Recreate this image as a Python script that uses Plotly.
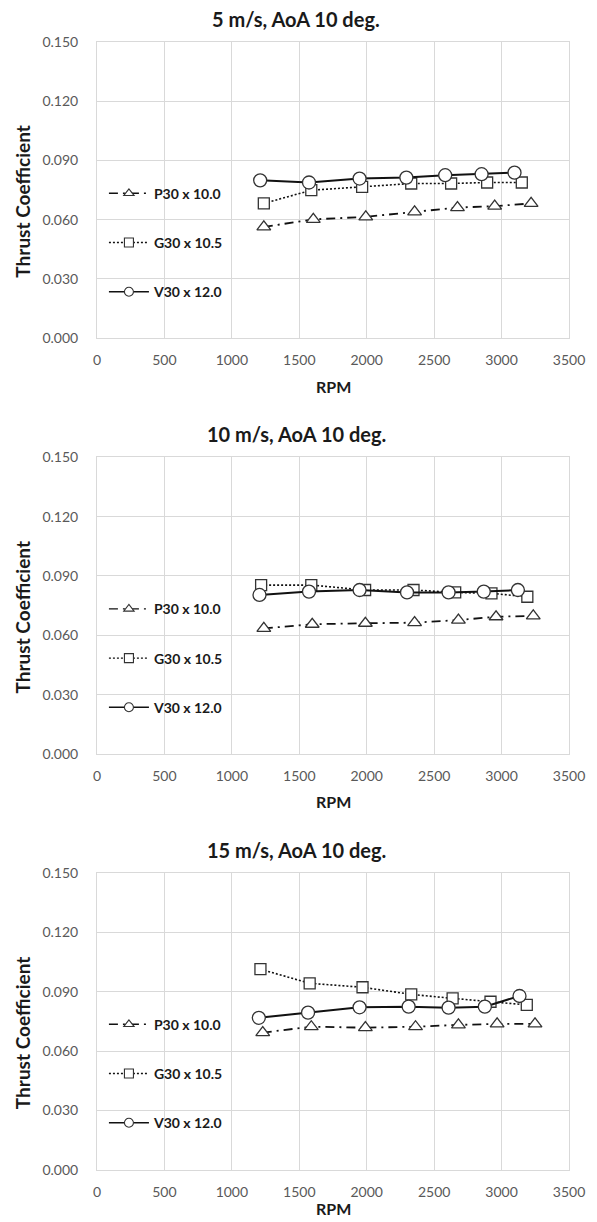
import plotly.graph_objects as go

# ---------------- data ----------------
series_names = ["P30 x 10.0", "G30 x 10.5", "V30 x 12.0"]
panel_titles = ["5 m/s, AoA 10 deg.", "10 m/s, AoA 10 deg.", "15 m/s, AoA 10 deg."]
x_ticks = [0, 500, 1000, 1500, 2000, 2500, 3000, 3500]
y_ticks = [0.000, 0.030, 0.060, 0.090, 0.120, 0.150]

# 5 m/s
rpm_p30_5 = [1237, 1604, 1993, 2355, 2673, 2949, 3219]
ct_p30_5 = [0.0563, 0.0601, 0.0614, 0.0639, 0.0661, 0.0668, 0.0682]
rpm_g30_5 = [1237, 1589, 1966, 2330, 2626, 2893, 3150]
ct_g30_5 = [0.0682, 0.0749, 0.0766, 0.0783, 0.0783, 0.0788, 0.0788]
rpm_v30_5 = [1210, 1572, 1947, 2294, 2582, 2852, 3096]
ct_v30_5 = [0.0799, 0.0788, 0.0808, 0.0813, 0.0825, 0.0830, 0.0838]

# 10 m/s
rpm_p30_10 = [1237, 1596, 1990, 2355, 2680, 2959, 3235]
ct_p30_10 = [0.0635, 0.0656, 0.0661, 0.0664, 0.0677, 0.0694, 0.0698]
rpm_g30_10 = [1217, 1589, 1988, 2347, 2656, 2925, 3191]
ct_g30_10 = [0.0854, 0.0854, 0.0829, 0.0829, 0.0817, 0.0812, 0.0795]
rpm_v30_10 = [1205, 1572, 1947, 2299, 2607, 2868, 3121]
ct_v30_10 = [0.0804, 0.0821, 0.0829, 0.0817, 0.0817, 0.0821, 0.0829]

# 15 m/s
rpm_p30_15 = [1229, 1589, 1990, 2362, 2680, 2967, 3248]
ct_p30_15 = [0.0693, 0.0723, 0.0718, 0.0723, 0.0732, 0.0737, 0.0737]
rpm_g30_15 = [1212, 1577, 1969, 2330, 2637, 2918, 3187]
ct_g30_15 = [0.1013, 0.0942, 0.0922, 0.0886, 0.0866, 0.0849, 0.0833]
rpm_v30_15 = [1200, 1565, 1947, 2311, 2607, 2876, 3133]
ct_v30_15 = [0.0768, 0.0794, 0.0821, 0.0824, 0.0819, 0.0824, 0.0878]

panels = [
    [(rpm_p30_5, ct_p30_5), (rpm_g30_5, ct_g30_5), (rpm_v30_5, ct_v30_5)],
    [(rpm_p30_10, ct_p30_10), (rpm_g30_10, ct_g30_10), (rpm_v30_10, ct_v30_10)],
    [(rpm_p30_15, ct_p30_15), (rpm_g30_15, ct_g30_15), (rpm_v30_15, ct_v30_15)],
]

# ---------------- styles ----------------
W, H = 597, 1222
M_L, M_R, M_T, M_B = 97, 23, 42, 52
PH = H - M_T - M_B  # plotting height in px


def py(px):  # pixel y (from top) -> paper y
    return (H - M_B - px) / PH


def pxx(px):  # pixel x -> paper x
    return (px - M_L) / (W - M_L - M_R)


panel_px = [(41.7, 338.0), (457.3, 754.0), (872.7, 1170.0)]  # top, bottom
rpm_label_px = [386, 801, 1208]
styles = [
    dict(dash="9px,5px,2px,5px", width=1.8, symbol="triangle-up", size=12),
    dict(dash="2px,2px", width=1.6, symbol="square", size=11),
    dict(dash="solid", width=2.0, symbol="circle", size=13),
]
LEG_MK = 9
LINE_COL = "#111111"
MK_EDGE = "#333333"
GRID = "#d9d9d9"
TICK_FONT = dict(family="Lato", size=14, color="#595959")
BOLD = "Lato"

fig = go.Figure()
for p, series in enumerate(panels):
    sfx = "" if p == 0 else str(p + 1)
    for s, (xs, ys) in enumerate(series):
        st = styles[s]
        fig.add_trace(go.Scatter(
            x=xs, y=ys, name=series_names[s], mode="lines+markers",
            xaxis="x" + sfx, yaxis="y" + sfx, showlegend=False,
            line=dict(color=LINE_COL, width=st["width"], dash=st["dash"]),
            marker=dict(symbol=st["symbol"], size=st["size"], color="white",
                        line=dict(color=MK_EDGE, width=1.3)),
        ))
    # legend entries (no marks in the plot area; smaller legend symbols)
    for s in range(3):
        st = styles[s]
        fig.add_trace(go.Scatter(
            x=[None], y=[None], name=series_names[s], mode="lines+markers",
            xaxis="x" + sfx, yaxis="y" + sfx, showlegend=True,
            legend="legend" + sfx, legendgroup=f"g{p}_{s}",
            line=dict(color=LINE_COL, width=st["width"] * 0.8, dash=st["dash"]),
            marker=dict(symbol=st["symbol"], size=LEG_MK, color="white",
                        line=dict(color=MK_EDGE, width=1.1)),
        ))

layout = dict(
    width=W, height=H, paper_bgcolor="white", plot_bgcolor="white",
    margin=dict(l=M_L, r=M_R, t=M_T, b=M_B),
    showlegend=True, annotations=[],
)

for p in range(3):
    sfx = "" if p == 0 else str(p + 1)
    top, bot = panel_px[p]
    dom = [max(0.0, py(bot)), min(1.0, py(top))]
    layout["xaxis" + sfx] = dict(
        domain=[0, 1], anchor="y" + sfx, range=[0, 3500], tickvals=x_ticks,
        showgrid=True, gridcolor=GRID, gridwidth=1, zeroline=False,
        showline=True, linecolor=GRID, linewidth=1, mirror=True,
        ticks="outside", ticklen=9, tickcolor="rgba(0,0,0,0)",
        tickfont=TICK_FONT,
    )
    layout["yaxis" + sfx] = dict(
        domain=dom, anchor="x" + sfx, range=[0, 0.15], tickvals=y_ticks,
        tickformat=".3f", showgrid=True, gridcolor=GRID, gridwidth=1,
        zeroline=False, showline=True, linecolor=GRID, linewidth=1, mirror=True,
        ticks="outside", ticklen=15, tickcolor="rgba(0,0,0,0)",
        tickfont=TICK_FONT,
    )
    layout["legend" + sfx] = dict(
        x=pxx(104), xanchor="left", y=py(top + 136), yanchor="top",
        bgcolor="rgba(0,0,0,0)", borderwidth=0, tracegroupgap=28,
        itemwidth=40, traceorder="grouped",
        font=dict(family=BOLD, size=14, color="#1a1a1a", weight="bold"),
    )
    # panel title (centered on the figure)
    layout["annotations"].append(dict(
        text="<b>" + panel_titles[p] + "</b>", xref="paper", yref="paper",
        x=pxx(W / 2), y=py(top - 23), xanchor="center", yanchor="middle",
        showarrow=False, font=dict(family=BOLD, size=20, color="#1a1a1a"),
    ))
    # x axis title
    layout["annotations"].append(dict(
        text="<b>RPM</b>", xref="paper", yref="paper",
        x=0.5, y=py(rpm_label_px[p]), xanchor="center", yanchor="middle",
        showarrow=False, font=dict(family=BOLD, size=16, color="#1a1a1a"),
    ))
    # y axis title
    layout["annotations"].append(dict(
        text="<b>Thrust Coefficient</b>", xref="paper", yref="paper",
        x=pxx(22), y=py((top + bot) / 2 + 12), xanchor="center", yanchor="middle",
        textangle=-90, showarrow=False,
        font=dict(family=BOLD, size=19, color="#1a1a1a"),
    ))

fig.update_layout(**layout)
fig.write_html("out.html")
